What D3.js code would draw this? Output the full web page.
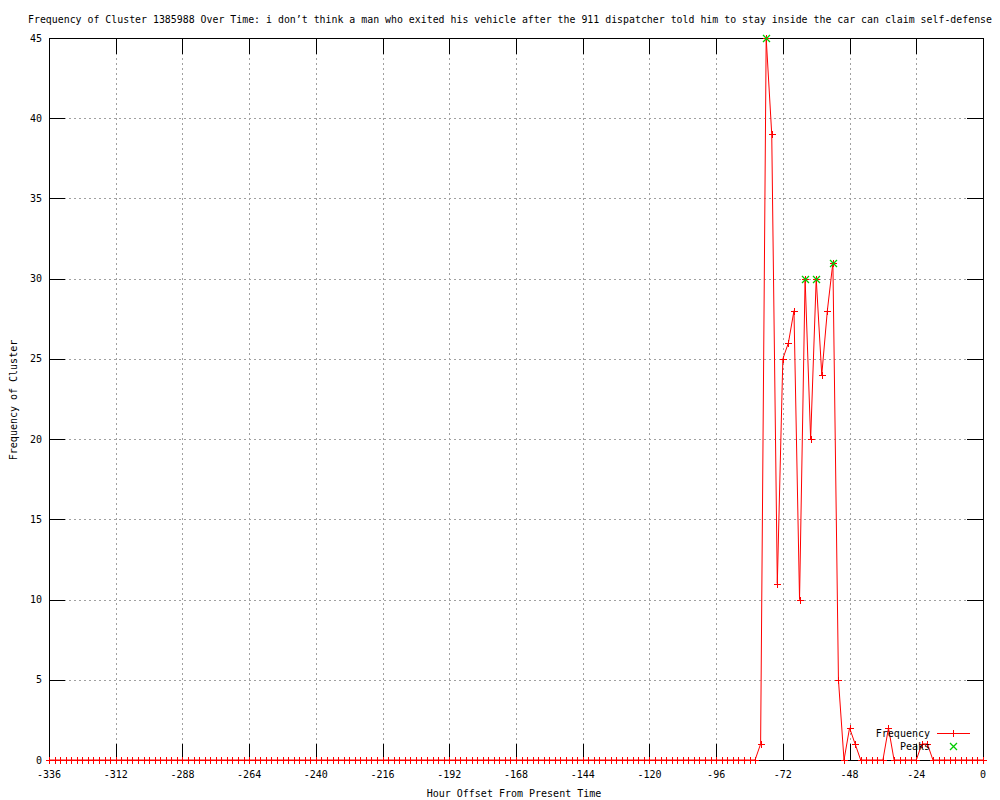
<!DOCTYPE html>
<html>
<head>
<meta charset="utf-8">
<script src="https://cdn.jsdelivr.net/npm/d3@7"></script>
<style>
  html, body { margin: 0; padding: 0; background: #fff; }
  svg text { font-family: "DejaVu Sans Mono", "Liberation Mono", monospace; font-size: 10px; fill: #000; }
</style>
</head>
<body>
<svg id="chart" width="1000" height="800"></svg>
<script>
const titleText = "Frequency of Cluster 1385988 Over Time: i don\u2019t think a man who exited his vehicle after the 911 dispatcher told him to stay inside the car can claim self-defense";
const xLabel = "Hour Offset From Present Time";
const yLabel = "Frequency of Cluster";

// hour offsets: -336 .. 0 every 2 hours
const hours = d3.range(-336, 1, 2);
// frequency for each hour offset
const freq = [
  0,0,0,0,0,0,0,0,0,0,0,0,0,0,0,0,
  0,0,0,0,0,0,0,0,0,0,0,0,0,0,0,0,
  0,0,0,0,0,0,0,0,0,0,0,0,0,0,0,0,
  0,0,0,0,0,0,0,0,0,0,0,0,0,0,0,0,
  0,0,0,0,0,0,0,0,0,0,0,0,0,0,0,0,
  0,0,0,0,0,0,0,0,0,0,0,0,0,0,0,0,
  0,0,0,0,0,0,0,0,0,0,0,0,0,0,0,0,
  0,0,0,0,0,0,0,0,0,0,0,0,0,0,0,0,
  1,45,39,11,25,26,28,10,30,20,30,24,28,31,5,
  0,2,1,0,0,0,0,0,2,0,0,0,0,0,1,1,
  0,0,0,0,0,0,0,0,0,0
];
const peakHours = [-78, -64, -60, -54];
const peakValues = [45, 30, 30, 31];
const xTicks = [-336,-312,-288,-264,-240,-216,-192,-168,-144,-120,-96,-72,-48,-24,0];
const yTicks = [0,5,10,15,20,25,30,35,40,45];
const legendLabels = ["Frequency", "Peaks"];

const L = 49, R = 983, T = 38, B = 760;
const svg = d3.select("#chart");
const x = d3.scaleLinear().domain([-336, 0]).range([L, R]);
const y = d3.scaleLinear().domain([0, 45]).range([B, T]);
const px = v => Math.round(v) + 0.5;

// grid
const grid = svg.append("g").attr("stroke", "#a0a0a0").attr("stroke-dasharray", "2,3").attr("shape-rendering", "crispEdges");
xTicks.slice(1, -1).forEach(t => {
  grid.append("line").attr("x1", px(x(t))).attr("x2", px(x(t))).attr("y1", T).attr("y2", B);
});
yTicks.slice(1, -1).forEach(t => {
  grid.append("line").attr("x1", L).attr("x2", R).attr("y1", px(y(t))).attr("y2", px(y(t)));
});

// ticks (inward, mirrored)
const tk = svg.append("g").attr("stroke", "#000").attr("shape-rendering", "crispEdges");
const TL = 16;
xTicks.forEach(t => {
  const xx = px(x(t));
  tk.append("line").attr("x1", xx).attr("x2", xx).attr("y1", B).attr("y2", B - TL);
  tk.append("line").attr("x1", xx).attr("x2", xx).attr("y1", T).attr("y2", T + TL);
});
yTicks.forEach(t => {
  const yy = px(y(t));
  tk.append("line").attr("x1", L).attr("x2", L + TL).attr("y1", yy).attr("y2", yy);
  tk.append("line").attr("x1", R).attr("x2", R - TL).attr("y1", yy).attr("y2", yy);
});
// border
svg.append("rect").attr("x", px(L)).attr("y", px(T)).attr("width", Math.round(R) - Math.round(L)).attr("height", Math.round(B) - Math.round(T))
  .attr("fill", "none").attr("stroke", "#000").attr("shape-rendering", "crispEdges");

// tick labels
svg.append("g").selectAll("text").data(xTicks).join("text")
  .attr("x", d => x(d)).attr("y", 778).attr("text-anchor", "middle").text(d => d);
svg.append("g").selectAll("text").data(yTicks).join("text")
  .attr("x", 42).attr("y", d => y(d)).attr("dy", "0.35em").attr("text-anchor", "end").text(d => d);

// titles
svg.append("text").attr("x", 28).attr("y", 23).attr("text-anchor", "start")
  .style("font-size", "9.8px")
  .attr("textLength", 964).attr("lengthAdjust", "spacingAndGlyphs").text(titleText);
svg.append("text").attr("x", 514).attr("y", 797).attr("text-anchor", "middle").text(xLabel);
svg.append("text").attr("transform", "translate(17,400) rotate(-90)").attr("text-anchor", "middle").text(yLabel);

// data line
const pts = hours.map((h, i) => [h, freq[i]]);
const line = d3.line().x(d => x(d[0])).y(d => y(d[1]));
svg.append("path").datum(pts).attr("d", line).attr("fill", "none").attr("stroke", "#ff0000").attr("stroke-width", 1);

const S = 3.5;
function plus(g, cx, cy, color) {
  g.append("path").attr("d", `M${cx - S},${cy}H${cx + S}M${cx},${cy - S}V${cy + S}`)
    .attr("stroke", color).attr("fill", "none").attr("shape-rendering", "crispEdges");
}
function cross(g, cx, cy, color) {
  g.append("path").attr("d", `M${cx - S},${cy - S}L${cx + S},${cy + S}M${cx - S},${cy + S}L${cx + S},${cy - S}`)
    .attr("stroke", color).attr("stroke-width", 1.3).attr("fill", "none");
}
const pg = svg.append("g");
pts.forEach(d => plus(pg, px(x(d[0])), px(y(d[1])), "#ff0000"));

const kg = svg.append("g");
peakHours.forEach((h, i) => cross(kg, px(x(h)), px(y(peakValues[i])), "#00cc00"));

// legend
svg.append("text").attr("x", 930).attr("y", 733).attr("dy", "0.35em").attr("text-anchor", "end").text(legendLabels[0]);
svg.append("text").attr("x", 930).attr("y", 746).attr("dy", "0.35em").attr("text-anchor", "end").text(legendLabels[1]);
svg.append("line").attr("x1", 937).attr("x2", 970).attr("y1", 733.5).attr("y2", 733.5).attr("stroke", "#ff0000").attr("shape-rendering", "crispEdges");
plus(svg, 953.5, 733.5, "#ff0000");
cross(svg, 953.5, 746.5, "#00cc00");
</script>
</body>
</html>
